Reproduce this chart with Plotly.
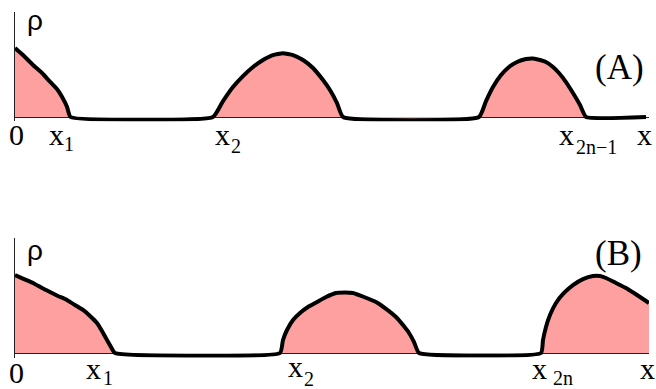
import plotly.graph_objects as go

# Panel (A): density profile rho(x)
a_x = [0, 1.42, 2.84, 4.26, 5.52, 6.62, 7.41, 8.20, 8.75,
       31.23, 32.81, 34.38, 35.96, 37.54, 39.12, 40.69, 42.27, 43.85,
       45.43, 47.00, 48.58, 49.68, 50.79, 51.74,
       73.19, 74.29, 75.39, 76.66, 77.92, 79.18, 80.60, 81.70, 82.81,
       83.75, 84.86, 85.80, 86.91, 88.01, 89.12, 90.06, 99.53]
a_rho = [0.657, 0.581, 0.495, 0.419, 0.336, 0.267, 0.193, 0.098, 0,
         0, 0.152, 0.286, 0.390, 0.476, 0.543, 0.590, 0.607, 0.590,
         0.543, 0.467, 0.352, 0.257, 0.133, 0,
         0, 0.152, 0.286, 0.400, 0.476, 0.524, 0.552, 0.557, 0.543,
         0.524, 0.476, 0.419, 0.333, 0.229, 0.114, 0, 0]

# Panel (B)
b_x = [0, 1.42, 2.84, 4.26, 5.52, 6.78, 8.20, 9.46, 10.73, 11.83, 12.93,
       13.72, 14.51, 15.14, 15.77,
       41.80, 42.27, 42.90, 43.85, 44.95, 46.21, 47.63, 49.05, 50.63, 52.05,
       53.31, 55.05, 56.94, 58.52, 60.09, 61.20, 62.15, 62.93, 63.72,
       82.97, 83.28, 83.75, 84.38, 85.33, 86.59, 88.01, 89.59, 91.17, 92.27,
       93.22, 94.79, 96.37, 98.11, 100.0]
b_rho = [0.678, 0.643, 0.609, 0.565, 0.530, 0.496, 0.461, 0.417, 0.374, 0.322,
         0.261, 0.191, 0.113, 0.052, 0,
         0, 0.113, 0.200, 0.287, 0.348, 0.400, 0.443, 0.487, 0.522, 0.526,
         0.522, 0.487, 0.443, 0.383, 0.313, 0.243, 0.174, 0.096, 0,
         0, 0.113, 0.226, 0.330, 0.435, 0.522, 0.591, 0.643, 0.670, 0.670,
         0.652, 0.609, 0.565, 0.504, 0.435]

W, H = 656, 389
FILL = "#ffa0a0"
SERIF = "Liberation Serif, Times New Roman, serif"
SANS = "Liberation Sans, Arial, sans-serif"


def px(x, y):
    # pixel -> paper fraction
    return x / W, 1 - y / H


fig = go.Figure()
for xs, ys, xa, ya in [(a_x, a_rho, "x", "y"), (b_x, b_rho, "x2", "y2")]:
    fig.add_trace(go.Scatter(
        x=xs, y=ys, xaxis=xa, yaxis=ya, mode="lines",
        line=dict(color="black", width=4, shape="spline", smoothing=0.4),
        fill="tozeroy", fillcolor=FILL, hoverinfo="skip", showlegend=False,
    ))

# y=0 sits at pixel 117 (A) / 353 (B); top of the rho axis at 12 / 238.
# a little room below 0 so the thick flat line isn't clipped
ax_common = dict(showgrid=False, showticklabels=False, ticks="", zeroline=False)
y_common = dict(showgrid=False, showticklabels=False, ticks="",
                showline=True, linecolor="#222", linewidth=1,
                zeroline=True, zerolinecolor="#222", zerolinewidth=1,
                range=[-0.04, 1], layer="above traces")
x_dom = [px(15, 0)[0], px(649, 0)[0]]
fig.update_layout(
    width=W, height=H, margin=dict(l=0, r=0, t=0, b=0),
    plot_bgcolor="white", paper_bgcolor="white",
    xaxis=dict(domain=x_dom, range=[0, 100], anchor="y", **ax_common),
    xaxis2=dict(domain=x_dom, range=[0, 100], anchor="y2", **ax_common),
    yaxis=dict(domain=[px(0, 121.2)[1], px(0, 12)[1]], anchor="x", **y_common),
    yaxis2=dict(domain=[px(0, 357.6)[1], px(0, 238)[1]], anchor="x2", **y_common),
)

labels = [
    # text, x px, y px, size, font
    ("\u03c1", 35, 21, 28, SANS),
    ("(A)", 619, 68, 35, SERIF),
    ("0", 16, 134, 30, SERIF),
    ("x", 56, 134, 30, SERIF), ("1", 69, 144, 20, SERIF),
    ("x", 222, 134, 30, SERIF), ("2", 236, 146, 20, SERIF),
    ("x", 566, 134, 30, SERIF), ("2n\u22121", 596, 147, 20, SERIF),
    ("x", 644, 134, 30, SERIF),

    ("\u03c1", 35, 250, 28, SANS),
    ("(B)", 618, 253, 35, SERIF),
    ("0", 16, 372, 30, SERIF),
    ("x", 94, 368, 30, SERIF), ("1", 108, 378, 20, SERIF),
    ("x", 295, 366, 30, SERIF), ("2", 309, 379, 20, SERIF),
    ("x", 539, 368, 30, SERIF), ("2n", 563, 378, 20, SERIF),
    ("x", 647, 368, 30, SERIF),
]
for text, lx, ly, size, fam in labels:
    xp, yp = px(lx, ly)
    fig.add_annotation(x=xp, y=yp, xref="paper", yref="paper", text=text,
                       showarrow=False, xanchor="center", yanchor="middle",
                       borderpad=0,
                       font=dict(family=fam, size=size, color="black"))

# drop the browser's default 8px body margin so the figure fills the window
fig.write_html("out.html", config={"displayModeBar": False},
               post_script="document.body.style.margin='0';"
                           "document.body.style.overflow='hidden';")
